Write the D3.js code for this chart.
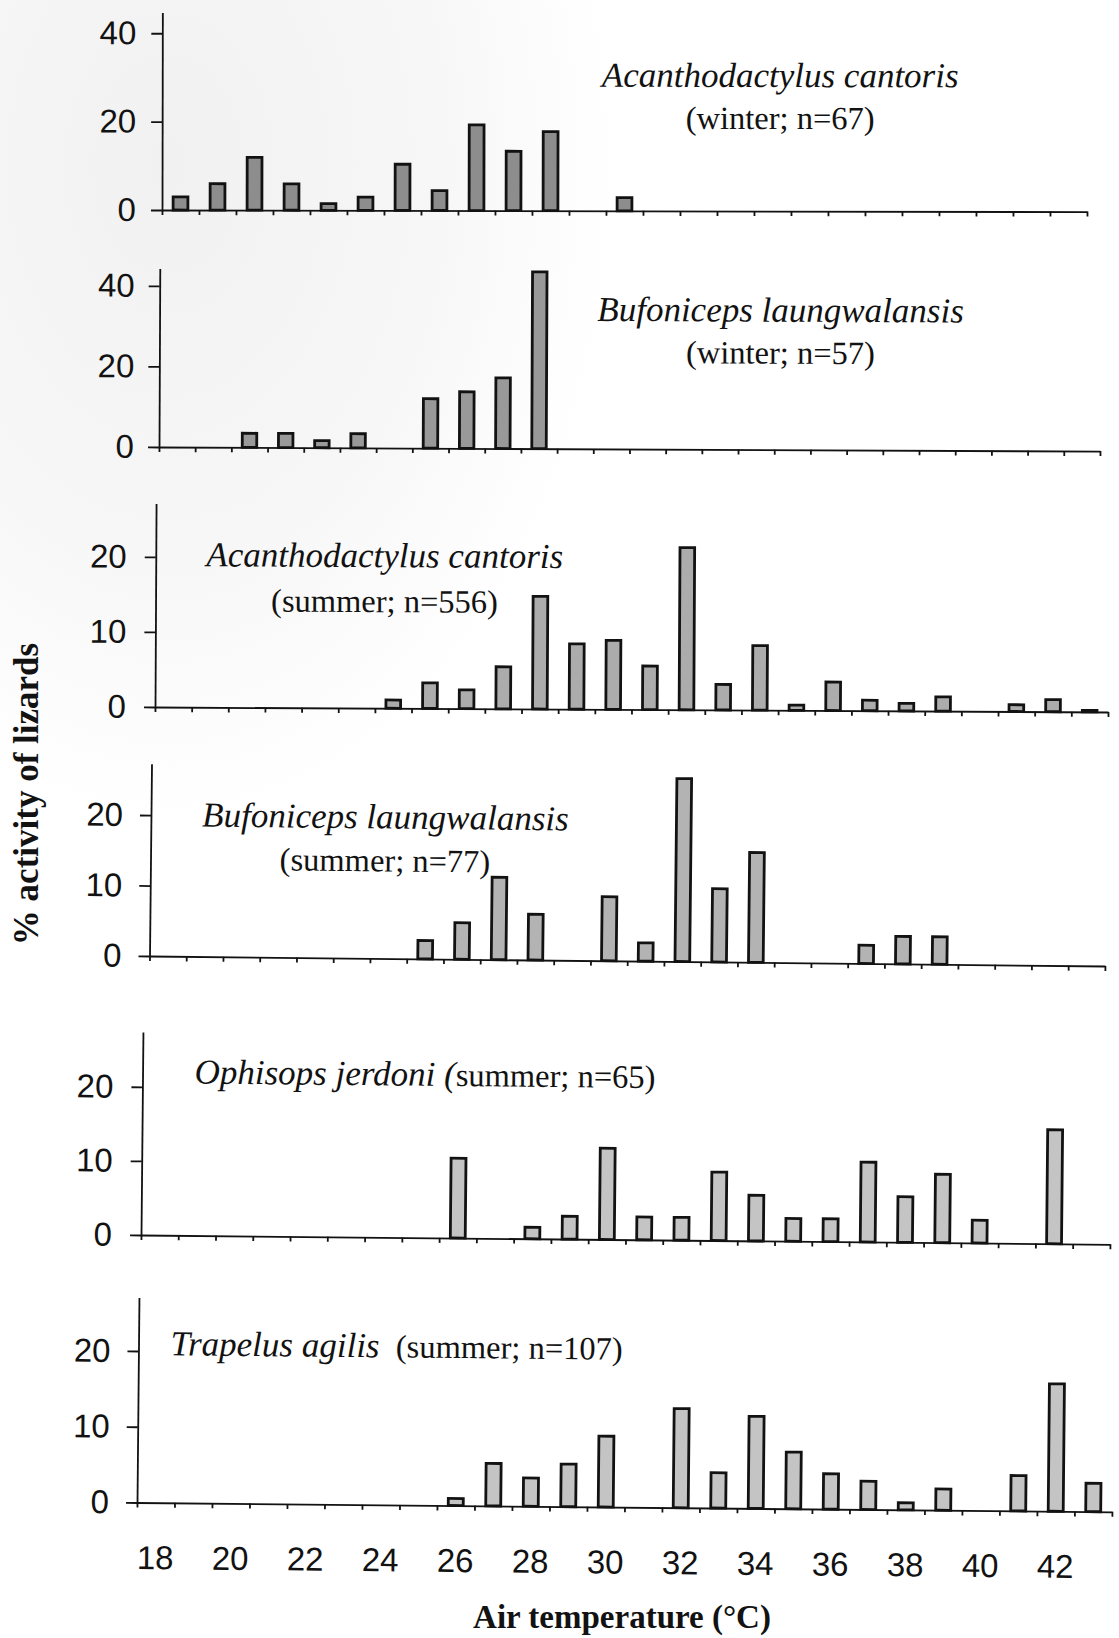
<!DOCTYPE html>
<html>
<head>
<meta charset="utf-8">
<script src="https://cdn.jsdelivr.net/npm/d3@7"></script>
<style>
  html, body { margin: 0; padding: 0; background: #ffffff; }
  svg { display: block; }
</style>
</head>
<body>
<svg id="chart" width="1119" height="1638"></svg>
<script>
// Air temperature classes (°C), one bar per 1-degree class
const categories = [18, 19, 20, 21, 22, 23, 24, 25, 26, 27, 28, 29, 30,
                    31, 32, 33, 34, 35, 36, 37, 38, 39, 40, 41, 42, 43];
const xTickLabels = [18, 20, 22, 24, 26, 28, 30, 32, 34, 36, 38, 40, 42];

// % activity of lizards in each temperature class
const acanthodactylusWinter = [2.99, 5.97, 11.94, 5.97, 1.49, 2.99, 10.45, 4.48, 19.40, 13.43, 17.91, 0, 2.99,
                               0, 0, 0, 0, 0, 0, 0, 0, 0, 0, 0, 0, 0];
const bufonicepsWinter      = [0, 0, 3.51, 3.51, 1.75, 3.51, 0, 12.28, 14.04, 17.54, 43.86, 0, 0,
                               0, 0, 0, 0, 0, 0, 0, 0, 0, 0, 0, 0, 0];
const acanthodactylusSummer = [0, 0, 0, 0, 0, 0, 1.1, 3.4, 2.5, 5.6, 15.0, 8.7, 9.2,
                               5.8, 21.6, 3.4, 8.6, 0.7, 3.8, 1.4, 1.0, 1.9, 0, 0.9, 1.6, 0.2];
const bufonicepsSummer      = [0, 0, 0, 0, 0, 0, 0, 2.60, 5.19, 11.69, 6.49, 0, 9.09,
                               2.60, 25.97, 10.39, 15.58, 0, 0, 2.60, 3.90, 3.90, 0, 0, 0, 0];
const ophisopsSummer        = [0, 0, 0, 0, 0, 0, 0, 0, 10.77, 0, 1.54, 3.08, 12.31,
                               3.08, 3.08, 9.23, 6.15, 3.08, 3.08, 10.77, 6.15, 9.23, 3.08, 0, 15.38, 0];
const trapelusSummer        = [0, 0, 0, 0, 0, 0, 0, 0, 0.93, 5.61, 3.74, 5.61, 9.35,
                               0, 13.08, 4.67, 12.15, 7.48, 4.67, 3.74, 0.93, 2.80, 0, 4.67, 16.82, 3.74];

const yTicksWinter = [0, 20, 40];
const yTicksSummer = [0, 10, 20];

const panels = [
  { values: acanthodactylusWinter, yTicks: yTicksWinter, yMax: 44.7,
    title: [[{ t: "Acanthodactylus cantoris", it: true }], [{ t: "(winter; n=67)" }]] },
  { values: bufonicepsWinter, yTicks: yTicksWinter, yMax: 44.3,
    title: [[{ t: "Bufoniceps laungwalansis", it: true }], [{ t: "(winter; n=57)" }]] },
  { values: acanthodactylusSummer, yTicks: yTicksSummer, yMax: 27.1,
    title: [[{ t: "Acanthodactylus cantoris", it: true }], [{ t: "(summer; n=556)" }]] },
  { values: bufonicepsSummer, yTicks: yTicksSummer, yMax: 27.3,
    title: [[{ t: "Bufoniceps laungwalansis", it: true }], [{ t: "(summer; n=77)" }]] },
  { values: ophisopsSummer, yTicks: yTicksSummer, yMax: 27.4,
    title: [[{ t: "Ophisops jerdoni (", it: true }, { t: "summer; n=65)" }]] },
  { values: trapelusSummer, yTicks: yTicksSummer, yMax: 27.05,
    title: [[{ t: "Trapelus agilis", it: true }, { t: "  (summer; n=107)" }]] }
];

// Placement of each panel on the page
const layout = [
  { x0: 162, x1: 1087, bins: 25, y0: 210, yTop: 12.5, tilt: 0.1, fill: "#8d8d8d", labelGap: 15,
    tx: 780, ty: 86, anchor: "middle", lineGap: 42 },
  { x0: 159, x1: 1100, bins: 26, y0: 447, yTop: 268.5, tilt: 0.25, fill: "#999999", labelGap: 14,
    tx: 780, ty: 319, anchor: "middle", lineGap: 42 },
  { x0: 155, x1: 1108, bins: 26, y0: 707, yTop: 503.6, tilt: 0.3, fill: "#acacac", labelGap: 18,
    tx: 384, ty: 566, anchor: "middle", lineGap: 45 },
  { x0: 149.5, x1: 1105, bins: 26, y0: 956, yTop: 763.7, tilt: 0.6, fill: "#b3b3b3", labelGap: 17,
    tx: 384, ty: 826, anchor: "middle", lineGap: 43 },
  { x0: 141, x1: 1110, bins: 26, y0: 1235, yTop: 1032, tilt: 0.55, fill: "#c4c4c4", labelGap: 18,
    tx: 193, ty: 1083, anchor: "start", lineGap: 0 },
  { x0: 137, x1: 1112, bins: 26, y0: 1502.5, yTop: 1297.6, tilt: 0.55, fill: "#c4c4c4", labelGap: 17,
    tx: 169, ty: 1355, anchor: "start", lineGap: 0 }
];

const INK = "#121212";
const SANS = "'Liberation Sans', Arial, sans-serif";
const SERIF = "'Liberation Serif', 'Times New Roman', serif";

const svg = d3.select("#chart");

// faint grey cast of the paper in the upper left
const defs = svg.append("defs");
const haze = defs.append("radialGradient").attr("id", "paper")
  .attr("cx", 0.15).attr("cy", 0.1).attr("r", 0.4);
haze.append("stop").attr("offset", 0).attr("stop-color", "#f1f1f1");
haze.append("stop").attr("offset", 0.6).attr("stop-color", "#f7f7f7");
haze.append("stop").attr("offset", 1).attr("stop-color", "#ffffff");
svg.append("rect").attr("width", 1119).attr("height", 1638).attr("fill", "url(#paper)");

panels.forEach((p, i) => {
  const L = layout[i];
  const cats = categories.slice(0, L.bins);
  const vals = p.values.slice(0, L.bins);

  const x = d3.scaleBand().domain(cats).range([L.x0, L.x1])
    .paddingInner(0.6).paddingOuter(0.3);
  const edge = d3.scaleLinear().domain([0, cats.length]).range([L.x0, L.x1]);
  const y = d3.scaleLinear().domain([0, p.yMax]).range([L.y0, L.yTop]);

  const g = svg.append("g").attr("transform", `rotate(${L.tilt} ${L.x0} ${L.y0})`);

  // category boundaries along the temperature axis
  const xa = g.append("g").attr("transform", `translate(0,${L.y0})`)
    .call(d3.axisBottom(edge).tickValues(d3.range(cats.length + 1))
      .tickFormat("").tickSize(5).tickSizeOuter(0));
  xa.selectAll("path, line").attr("stroke", INK).attr("stroke-width", 1.8);

  // percentage axis
  const ya = g.append("g").attr("transform", `translate(${L.x0},0)`)
    .call(d3.axisLeft(y).tickValues(p.yTicks).tickSize(11).tickPadding(L.labelGap).tickSizeOuter(0));
  ya.selectAll("path, line").attr("stroke", INK).attr("stroke-width", 1.8);
  ya.selectAll("text").attr("fill", INK).attr("font-family", SANS).attr("font-size", 33);

  // bars
  g.append("g").selectAll("rect")
    .data(cats.map((c, k) => ({ c, v: vals[k] })).filter(d => d.v > 0))
    .join("rect")
    .attr("x", d => x(d.c))
    .attr("width", x.bandwidth())
    .attr("y", d => y(d.v))
    .attr("height", d => y(0) - y(d.v))
    .attr("fill", L.fill)
    .attr("stroke", INK)
    .attr("stroke-width", 2.8);

  // species label
  p.title.forEach((line, li) => {
    const txt = g.append("text")
      .attr("x", L.tx).attr("y", L.ty + li * L.lineGap)
      .attr("text-anchor", L.anchor)
      .attr("font-family", SERIF).attr("fill", INK)
      .attr("xml:space", "preserve");
    line.forEach(part => {
      txt.append("tspan")
        .attr("font-style", part.it ? "italic" : "normal")
        .attr("font-size", part.it ? 35 : 32.5)
        .text(part.t);
    });
  });

  // temperature labels under the lowest panel
  if (i === panels.length - 1) {
    const lab = g.append("g").attr("transform", `translate(0,${L.y0})`)
      .call(d3.axisBottom(x).tickValues(xTickLabels).tickSize(0).tickPadding(43));
    lab.select(".domain").remove();
    lab.selectAll("text").attr("fill", INK).attr("font-family", SANS).attr("font-size", 33);
  }
});

// axis titles
svg.append("text")
  .attr("x", 622).attr("y", 1628)
  .attr("text-anchor", "middle")
  .attr("font-family", SERIF).attr("font-weight", "bold").attr("font-size", 33)
  .attr("fill", INK)
  .text("Air temperature (°C)");

svg.append("text")
  .attr("transform", "translate(38,794) rotate(-90)")
  .attr("text-anchor", "middle")
  .attr("font-family", SERIF).attr("font-weight", "bold").attr("font-size", 35)
  .attr("fill", INK)
  .text("% activity of lizards");
</script>
</body>
</html>
